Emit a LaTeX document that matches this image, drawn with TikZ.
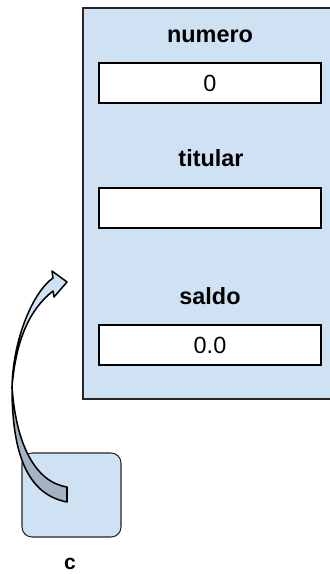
\documentclass[tikz,border=0pt]{standalone}
\usepackage{fontspec}
\setmainfont{Liberation Sans}
\usetikzlibrary{positioning}

\definecolor{objblue}{HTML}{CFE2F3}
\definecolor{backgray}{HTML}{A5B2C2}

\begin{document}
\begin{tikzpicture}[x = 0.03cm, y = 0.03cm,
  objbox/.style = {draw = black!85, fill = objblue, line width = 0.9pt, minimum width = 7.86cm, minimum height = 11.73cm},
  fieldbox/.style = {draw = black, fill = white, line width = 1.5pt, minimum width = 6.66cm, minimum height = 1.2cm, font = \fontsize{20}{24}\selectfont},
  fieldname/.style = {anchor = base, font = \fontsize{20}{24}\selectfont\bfseries},
  refbox/.style = {draw = black!85, fill = objblue, line width = 0.9pt, rounded corners = 0.3cm, minimum width = 2.97cm, minimum height = 2.52cm}]
\clip (0,0) rectangle (330,574);
\node[objbox] (obj) at (214,370.5) {};
\node[fieldname] (numero) at (210,531) {numero};
\node[fieldbox] (numeroval) at (210,491) {0};
\node[fieldname] (titular) at (211,407) {titular};
\node[fieldbox] (titularval) at (210,366) {};
\node[fieldname] (saldo) at (210,269) {saldo};
\node[fieldbox] (saldoval) at (210,229) {0.0};
\node[refbox] (c) at (71.5,79) {};
\node[fieldname, font = \fontsize{18}{21}\selectfont\bfseries] (clabel) at (70,4.5) {c};
% curved reference arrow from c to the object
\coordinate (tail) at (67,87);
\coordinate (neck) at (12,187);
\coordinate (tip) at (67,292);
\filldraw[fill = backgray, line width = 1.3pt, line join = round]
  (tail) .. controls (35,92) and (16,130) .. (neck)
  .. controls (12,125) and (25,80) .. (67,72) -- cycle;
\filldraw[fill = objblue, line width = 1.3pt, line join = round]
  (neck) .. controls (13,235) and (33,282) .. (53,296)
  -- (52,303) -- (tip) -- (54,277) -- (53,283)
  .. controls (30,265) and (16,235) .. (neck) -- cycle;
\end{tikzpicture}
\end{document}
